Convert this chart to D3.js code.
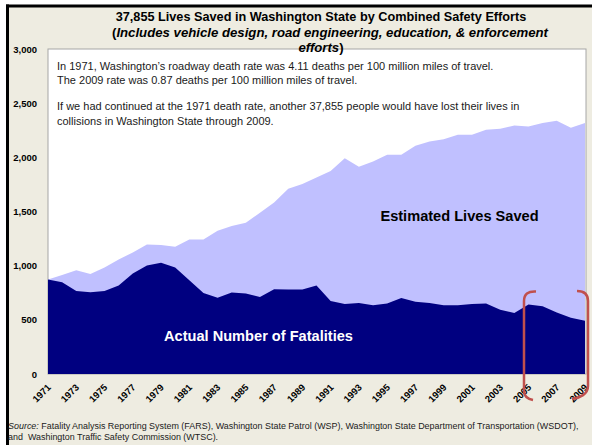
<!DOCTYPE html>
<html>
<head>
<meta charset="utf-8">
<script src="https://cdn.jsdelivr.net/npm/d3@7/dist/d3.min.js"></script>
<style>
  html, body { margin: 0; padding: 0; background: #fff; }
  svg { display: block; }
  text { font-family: Arial, "Liberation Sans", Helvetica, sans-serif; }
</style>
</head>
<body>
<svg id="chart" width="592" height="445"></svg>
<script>
// ---------- data ----------
const years = d3.range(1971, 2010);
const fatalities = [872, 847, 767, 755, 767, 816, 928, 1002, 1026, 983,
                    866, 748, 705, 752, 742, 711, 782, 779, 779, 816,
                    674, 646, 656, 634, 650, 702, 668, 656, 634, 634,
                    647, 650, 594, 563, 641, 625, 567, 520, 492];
const livesSaved = [0, 68, 191, 169, 216, 241, 194, 194, 164, 191,
                    376, 494, 617, 614, 654, 778, 800, 932, 976, 997,
                    1201, 1346, 1256, 1327, 1373, 1321, 1440, 1491, 1534, 1574,
                    1561, 1605, 1669, 1732, 1644, 1693, 1771, 1753, 1826];
const yTicks = [0, 500, 1000, 1500, 2000, 2500, 3000];
const xTickYears = d3.range(1971, 2010, 2);
const titleLine1 = "37,855 Lives Saved in Washington State by Combined Safety Efforts";
const noteLines = [
  "In 1971, Washington\u2019s roadway death rate was 4.11 deaths per 100 million miles of travel.",
  "The 2009 rate was 0.87 deaths per 100 million miles of travel.",
  "",
  "If we had continued at the 1971 death rate, another 37,855 people would have lost their lives in",
  "collisions in Washington State through 2009."
];

// ---------- layout ----------
const svg = d3.select("#chart");
const plot = {left: 48, right: 585, top: 49, bottom: 374};

// background & frame
svg.append("rect").attr("x", 7).attr("y", 6).attr("width", 592).attr("height", 445).attr("fill", "#EEECE1");
svg.append("line").attr("x1", 7.5).attr("x2", 7.5).attr("y1", 4.5).attr("y2", 445)
   .attr("stroke", "#000").attr("stroke-width", 3);
svg.append("line").attr("x1", 6).attr("x2", 592).attr("y1", 6).attr("y2", 6)
   .attr("stroke", "#000").attr("stroke-width", 3);

const x = d3.scaleLinear().domain([1971, 2009]).range([plot.left, plot.right]);
const y = d3.scaleLinear().domain([0, 3000]).range([plot.bottom, plot.top]);

// plot area
svg.append("rect").attr("x", plot.left).attr("y", plot.top)
   .attr("width", plot.right - plot.left + 1).attr("height", plot.bottom - plot.top)
   .attr("fill", "#fff").attr("stroke", "#A6A6A6").attr("stroke-width", 1);

// stacked areas
const table = years.map((yr, i) => ({year: yr, fatalities: fatalities[i], saved: livesSaved[i]}));
const stack = d3.stack().keys(["fatalities", "saved"])(table);
const area = d3.area()
  .x(d => x(d.data.year))
  .y0(d => y(d[0]))
  .y1(d => y(d[1]));
const colors = {fatalities: "#000080", saved: "#C0C0FF"};
const totalArea = d3.area().x(d => x(d.data.year)).y0(y(0)).y1(d => y(d[1]));
svg.append("path").datum(stack[1]).attr("d", totalArea).attr("fill", colors.saved);
svg.append("path").datum(stack[0]).attr("d", area).attr("fill", colors.fatalities);

// y axis labels
const yAxis = d3.axisLeft(y).tickValues(yTicks).tickFormat(d3.format(",")).tickSize(0).tickPadding(11);
const yg = svg.append("g").attr("transform", `translate(${plot.left},0)`).call(yAxis);
yg.select(".domain").remove();
yg.selectAll("text").attr("font-size", "9.5px").attr("font-weight", "bold").attr("fill", "#000")
  .attr("font-family", "Arial, 'Liberation Sans', sans-serif");

// x axis labels
const xAxis = d3.axisBottom(x).tickValues(xTickYears).tickFormat(d3.format("d")).tickSize(0).tickPadding(0);
const xg = svg.append("g").attr("transform", `translate(0,${plot.bottom})`).call(xAxis);
xg.select(".domain").remove();
xg.selectAll("text")
  .attr("font-size", "9.5px").attr("font-weight", "bold").attr("fill", "#000")
  .attr("font-family", "Arial, 'Liberation Sans', sans-serif")
  .attr("text-anchor", "end").attr("dy", null).attr("y", 0)
  .attr("transform", "translate(3,14) rotate(-45)");

// title
svg.append("text").attr("x", 321).attr("y", 21).attr("text-anchor", "middle").attr("font-weight", "bold")
  .attr("font-size", "12.7px").attr("fill", "#000").text(titleLine1);
const t2 = svg.append("text").attr("x", 330).attr("y", 37).attr("text-anchor", "middle")
  .attr("font-weight", "bold").attr("font-size", "13.2px");
t2.append("tspan").text("(");
t2.append("tspan").attr("font-style", "italic").text("Includes vehicle design, road engineering, education, & enforcement");
const t3 = svg.append("text").attr("x", 321).attr("y", 52).attr("text-anchor", "middle")
  .attr("font-weight", "bold").attr("font-size", "13.2px");
t3.append("tspan").attr("font-style", "italic").text("efforts");
t3.append("tspan").text(")");

// annotation
const noteY = [70, 84, 0, 110, 125];
noteLines.forEach((l, i) => {
  if (!l) return;
  svg.append("text").attr("x", 57).attr("y", noteY[i]).attr("font-size", "11px").attr("fill", "#1a1a1a").text(l);
});

// series labels
svg.append("text").attr("x", 459.5).attr("y", 221).attr("text-anchor", "middle")
  .attr("font-weight", "bold").attr("font-size", "14.6px").attr("fill", "#000").text("Estimated Lives Saved");
svg.append("text").attr("x", 258.5).attr("y", 341).attr("text-anchor", "middle")
  .attr("font-weight", "bold").attr("font-size", "14.6px").attr("fill", "#fff").text("Actual Number of Fatalities");

// red brackets
const red = "#C0504D";
svg.append("path").attr("d", "M536,291.5 C528,291 524,294 524,301 L524,391 C524,397 528,399 533,400")
  .attr("fill", "none").attr("stroke", red).attr("stroke-width", 2.5);
svg.append("path").attr("d", "M577,291 C584,291 588,294 588,301 L588,386 C588,394 580,398 572,399")
  .attr("fill", "none").attr("stroke", red).attr("stroke-width", 2.5);

// source
const src = svg.append("text").attr("x", 8).attr("y", 429).attr("font-size", "8.95px").attr("fill", "#1a1a1a");
src.append("tspan").attr("font-style", "italic").text("Source:");
src.append("tspan").text(" Fatality Analysis Reporting System (FARS), Washington State Patrol (WSP), Washington State Department of Transportation (WSDOT),");
svg.append("text").attr("x", 8).attr("y", 440).attr("font-size", "8.95px").attr("fill", "#1a1a1a")
  .style("white-space", "pre")
  .text("and  Washington Traffic Safety Commission (WTSC).");
</script>
</body>
</html>
